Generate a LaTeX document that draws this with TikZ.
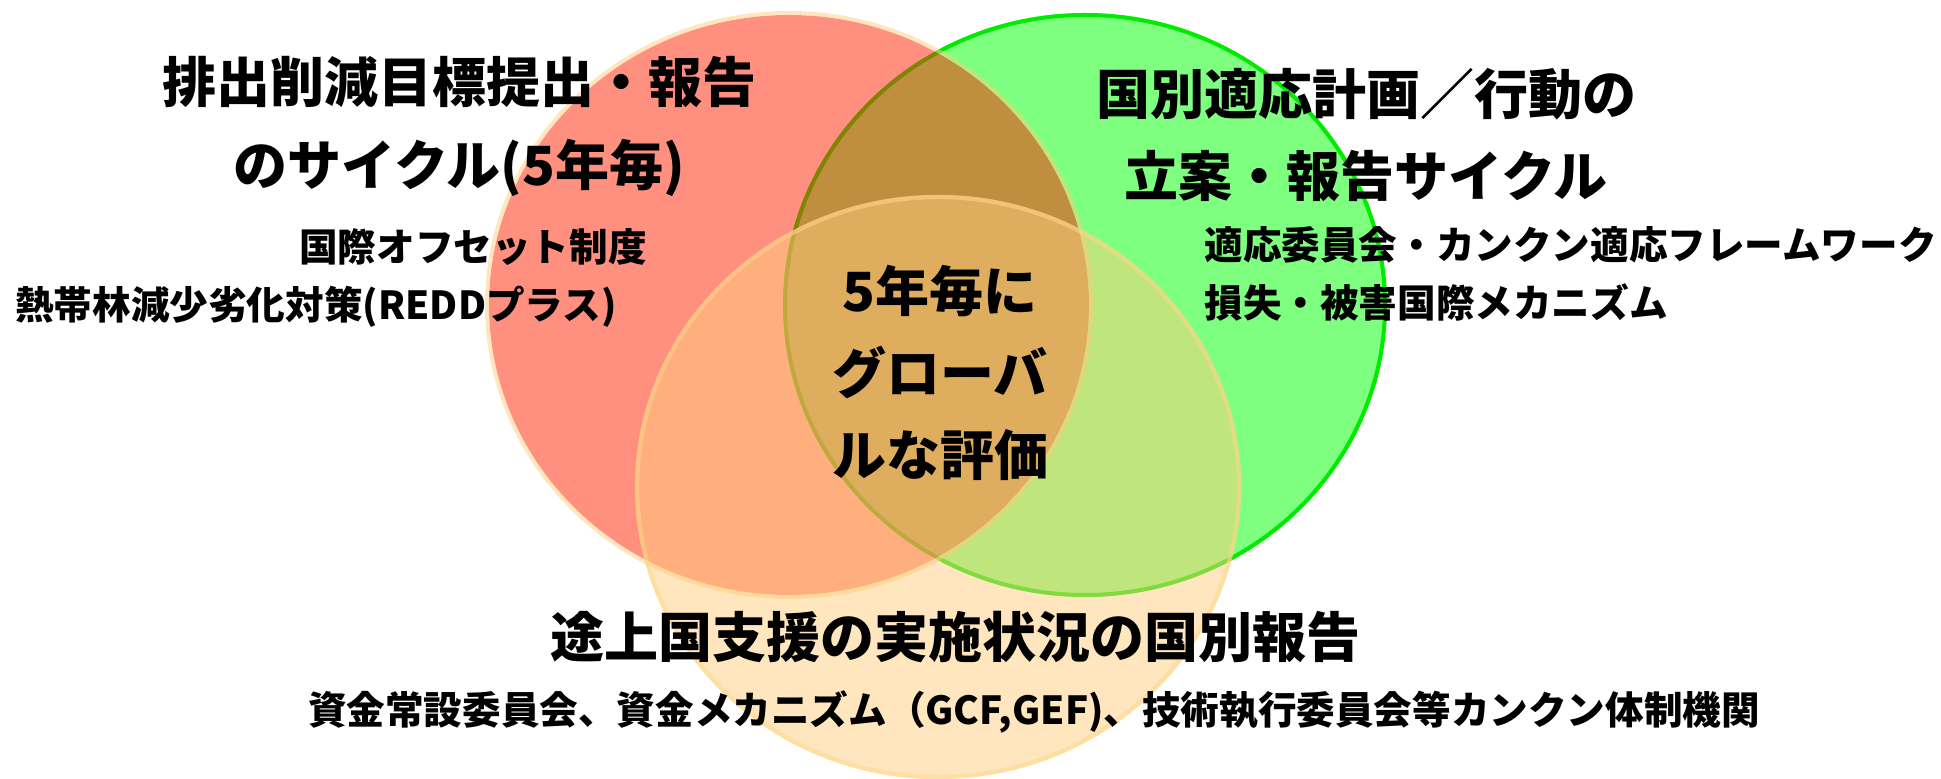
\documentclass[tikz,border=0pt]{standalone}
\usepackage{fontspec}
\setmainfont{Noto Sans CJK JP}
\definecolor{gfill}{RGB}{0,255,0}
\definecolor{gline}{RGB}{0,235,0}
\definecolor{rfill}{RGB}{255,31,0}
\definecolor{rline}{RGB}{255,205,125}
\definecolor{ofill}{RGB}{255,205,125}
\definecolor{oline}{RGB}{255,215,140}
\begin{document}
\begin{tikzpicture}[x=0.5pt,y=-0.5pt,
  big/.style={font=\bfseries\fontsize{27pt}{32pt}\selectfont, inner sep=0pt, anchor=base},
  small/.style={font=\bfseries\fontsize{19.3pt}{23pt}\selectfont, inner sep=0pt, anchor=base},
  smallw/.style={small, anchor=base west}]
\useasboundingbox (0,0) rectangle (1941,779);
% circles
\path[fill=gfill, fill opacity=0.5] (1085,305) ellipse [x radius=302, y radius=292];
\path[draw=gline, line width=2pt] (1085,305) ellipse [x radius=300, y radius=290];
\path[fill=rfill, fill opacity=0.5] (789,305) ellipse [x radius=300, y radius=290];
\path[draw=rline, draw opacity=0.5, line width=2pt] (789,305) ellipse [x radius=302, y radius=292];
\path[fill=ofill, fill opacity=0.5] (938,487) ellipse [x radius=303, y radius=292];
\path[draw=oline, draw opacity=0.55, line width=2.2pt] (938,487) ellipse [x radius=301, y radius=290];
% red texts
\node[big] (r1) at (459,103) {排出削減目標提出・報告};
\node[big] (r2) at (459,186) {のサイクル(5年毎)};
\node[small] (r3) at (473,262) {国際オフセット制度};
\node[small] (r4) at (316,320) {熱帯林減少劣化対策(REDDプラス)};
% green texts
\node[big] (g1) at (1366,115) {国別適応計画／行動の};
\node[big] (g2) at (1366,197) {立案・報告サイクル};
\node[smallw] (g3) at (1204,260) {適応委員会・カンクン適応フレームワーク};
\node[smallw] (g4) at (1204,318) {損失・被害国際メカニズム};
% centre
\node[big] (c1) at (940,312) {5年毎に};
\node[big] (c2) at (940,394) {グローバ};
\node[big] (c3) at (940,476) {ルな評価};
% orange texts
\node[big] (o1) at (955,657) {途上国支援の実施状況の国別報告};
\node[small] (o2) at (1034,724) {資金常設委員会、資金メカニズム（GCF,GEF)、技術執行委員会等カンクン体制機関};
\end{tikzpicture}
\end{document}
